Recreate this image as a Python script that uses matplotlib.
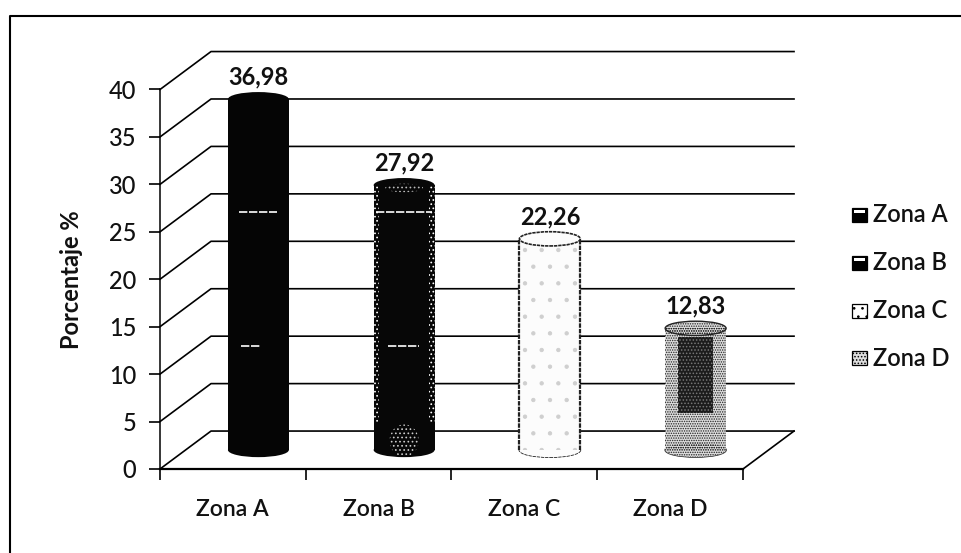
import matplotlib
matplotlib.use("Agg")
import matplotlib.pyplot as plt
from matplotlib.patches import Ellipse, Rectangle

zonas = ["Zona A", "Zona B", "Zona C", "Zona D"]
porcentajes = [36.98, 27.92, 22.26, 12.83]
etiquetas = ["36,98", "27,92", "22,26", "12,83"]
y_ticks = [0, 5, 10, 15, 20, 25, 30, 35, 40]

W, H = 962, 553
plt.rcParams['font.family'] = ['Lato', 'DejaVu Sans']
plt.rcParams['hatch.linewidth'] = 0.7

fig = plt.figure(figsize=(W / 100, H / 100), dpi=100)
# front plane of the fake 3d box, from pixel positions
ax = fig.add_axes([160 / W, 1 - 469 / H, 583 / W, 379.5 / H])
ax.set_xlim(0, 4)
ax.set_ylim(0, 40)
for s in ['top', 'right']:
    ax.spines[s].set_visible(False)
ax.spines['left'].set_linewidth(1.1)
ax.spines['bottom'].set_linewidth(1.6)
ax.patch.set_alpha(0)

# depth of the box in data units
DX, DY = 0.35, 4.0

ax.set_yticks(y_ticks)
ax.set_xticks([0, 1, 2, 3, 4])
ax.set_xticklabels([])
ax.tick_params(axis='y', length=8, width=1.2, labelsize=17, pad=9, labelcolor='#111111')
ax.tick_params(axis='x', length=8, width=1.2, direction='out')
for lab in ax.get_yticklabels():
    lab.set_fontweight('medium')

for v in y_ticks:
    ax.plot([0, DX, 4 + DX], [v, v + DY, v + DY], color='black', lw=1.2,
            clip_on=False, zorder=1)
ax.plot([4, 4 + DX], [0, DY], color='black', lw=1.2, clip_on=False, zorder=1)

# bars stand in the middle of the depth
BAR_W = 0.418
ELL_H = 1.5


def cylinder(cx, top, y0, face, hatch=None, edge='black'):
    shapes = [lambda **k: Ellipse((cx, y0), BAR_W, ELL_H, **k),
              lambda **k: Rectangle((cx - BAR_W / 2, y0), BAR_W, top - y0, **k),
              lambda **k: Ellipse((cx, top), BAR_W, ELL_H, **k)]
    for make in shapes:
        ax.add_patch(make(facecolor=face, edgecolor='none', clip_on=False, zorder=3))
        if hatch:
            ax.add_patch(make(facecolor='none', edgecolor=edge, hatch=hatch, lw=0,
                              clip_on=False, zorder=4))


y0 = DY / 2
centros = [i + 0.5 + DX / 2 for i in range(len(zonas))]

# Zona A
cylinder(centros[0], y0 + porcentajes[0], y0, '#050505')
# Zona B, speckled rim and foot
cylinder(centros[1], y0 + porcentajes[1], y0, '#070707')
for lado in [-BAR_W / 2, BAR_W / 2 - 0.035]:
    ax.add_patch(Rectangle((centros[1] + lado, y0 + 3), 0.035, porcentajes[1] - 3,
                           facecolor='none', edgecolor='white', hatch='....', lw=0, zorder=4))
ax.add_patch(Ellipse((centros[1], y0 + 1.0), 0.2, 3.4, facecolor='none', edgecolor='#cccccc',
                     hatch='....', lw=0, zorder=4))
ax.add_patch(Ellipse((centros[1], y0 + porcentajes[1] - 0.3), 0.26, 0.9, facecolor='none',
                     edgecolor='#bbbbbb', hatch='....', lw=0, zorder=4))
# Zona C
cylinder(centros[2], y0 + porcentajes[2], y0, '#fcfcfc')
ax.add_patch(Rectangle((centros[2] - BAR_W / 2, y0), BAR_W, porcentajes[2], facecolor='none',
                       edgecolor='#cfcfcf', hatch='.', lw=0, zorder=4))
for lado in [-BAR_W / 2, BAR_W / 2]:
    ax.plot([centros[2] + lado] * 2, [y0, y0 + porcentajes[2]], color='#222222', lw=1.6,
            ls=(0, (2, 0.5)), zorder=5)
ax.add_patch(Ellipse((centros[2], y0 + porcentajes[2]), BAR_W, ELL_H, facecolor='none',
                     edgecolor='#222222', lw=1.2, ls=(0, (2, 0.5)), clip_on=False, zorder=5))
ax.add_patch(Ellipse((centros[2], y0), BAR_W, ELL_H, facecolor='none',
                     edgecolor='#222222', lw=1.2, ls=(0, (2, 0.5)), clip_on=False, zorder=2.9))
# Zona D, dotted with a dark core
cylinder(centros[3], y0 + porcentajes[3], y0, '#dedede', hatch='.......', edge='#222222')
ax.add_patch(Rectangle((centros[3] - 0.12, y0 + 3.9), 0.24, porcentajes[3] - 4.8,
                       facecolor='#1c1c1c', edgecolor='#777777', hatch='.....', lw=0, zorder=5))
ax.add_patch(Ellipse((centros[3], y0 + porcentajes[3]), BAR_W, ELL_H, facecolor='none',
                     edgecolor='#222222', lw=1.0, clip_on=False, zorder=5))
ax.add_patch(Ellipse((centros[3], y0), BAR_W, ELL_H, facecolor='none',
                     edgecolor='#222222', lw=1.0, clip_on=False, zorder=2.9))

# white dashes on the dark bars (x extent relative to the bar centre, y in axis units)
guiones = [(centros[0], -0.13, 0.13, 27.1), (centros[0], -0.12, 0.01, 13.0),
           (centros[1], -0.19, 0.19, 27.1), (centros[1], -0.11, 0.10, 13.0)]
for c, a, b, v in guiones:
    ax.plot([c + a, c + b], [v, v], color='white', lw=1.2, ls=(0, (5, 1)), zorder=6)

for c, v, t in zip(centros, porcentajes, etiquetas):
    ax.text(c, y0 + v + 2.35, t, ha='center', va='center', fontsize=17, fontweight='bold',
            color='#111111', zorder=7)

for i, z in enumerate(zonas):
    ax.text(i + 0.5, -4.3, z, ha='center', va='center', fontsize=16.5, fontweight='semibold',
            color='#111111')

ax.set_ylabel("Porcentaje %", fontsize=17, fontweight='bold', color='#111111')
ax.yaxis.set_label_coords(-77 / 583, 0.5)

# legend
leg_y = [215, 263, 311, 358]
leg_hatch = [None, None, '..', '.....']
leg_face = ['black', 'black', 'white', '#dddddd']
for y, z, f, h in zip(leg_y, zonas, leg_face, leg_hatch):
    fig.add_artist(Rectangle((852 / W, 1 - (y + 7) / H), 15 / W, 14 / H, transform=fig.transFigure,
                             facecolor=f, edgecolor='black', lw=0.9, hatch=h))
    fig.text(873 / W, 1 - y / H, z, fontsize=17, fontweight='semibold', va='center', ha='left',
             color='#111111')
# light caps of the two dark legend keys
for y in leg_y[:2]:
    fig.add_artist(Rectangle((854 / W, 1 - (y - 2) / H), 11 / W, 3 / H, transform=fig.transFigure,
                             facecolor='white', edgecolor='none'))

# outer frame, open on the right and bottom as in the scan
fig.add_artist(plt.Line2D([10 / W, 10 / W, 1], [0, 1 - 15.5 / H, 1 - 15.5 / H],
                          transform=fig.transFigure, color='black', lw=1.5))

fig.savefig("out.png", dpi=100)
